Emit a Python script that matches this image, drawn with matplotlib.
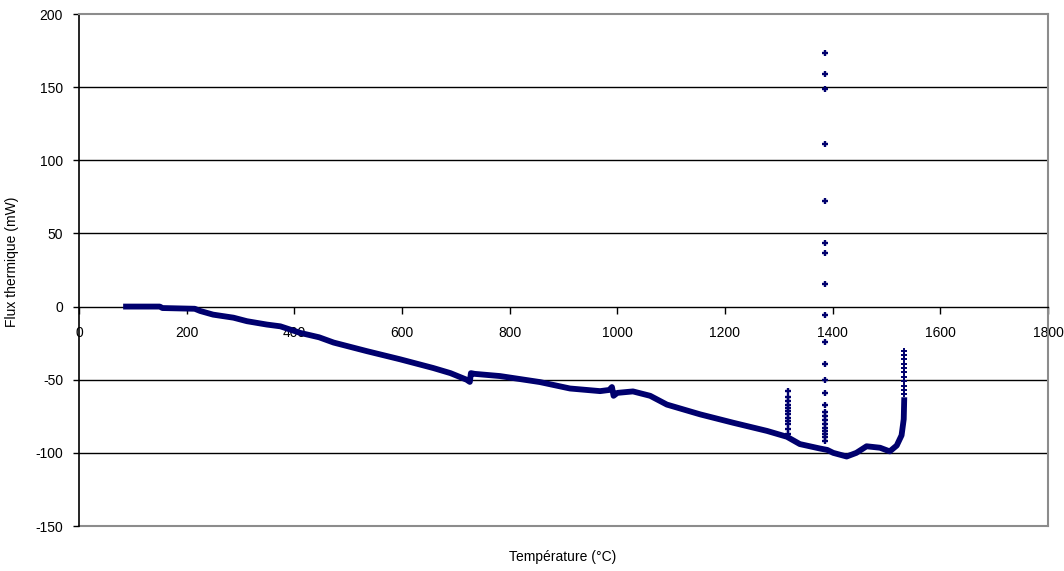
import matplotlib
matplotlib.use("Agg")
import matplotlib.pyplot as plt

plt.rcParams['font.family'] = ['Liberation Sans', 'DejaVu Sans']

# main curve (temperature in C, heat flow in mW)
temp = [82, 120, 150, 155, 215, 225, 249, 287, 312, 349, 374, 411, 446, 473,
        535, 596, 658, 690, 720, 726, 728, 735, 782, 856, 912, 968, 985, 990,
        993, 1000, 1029, 1061, 1092, 1154, 1215, 1278, 1315, 1339, 1376, 1390,
        1401, 1426, 1444, 1463, 1488, 1506, 1519, 1528, 1532, 1533]
flux = [0, 0, 0, -1, -1.5, -3, -5.5, -7.6, -10, -12.3, -13.5, -18, -21, -24.6,
        -30.5, -36, -42, -45.5, -50, -51.5, -45.5, -46, -47.5, -51.6, -56, -57.8,
        -57, -55, -61, -59, -58, -61, -67, -73.7, -79.4, -85, -89, -94, -97, -98,
        -100, -102.5, -100, -95.5, -96.5, -99, -95, -88, -77, -62]

# isolated points of the peaks
peak1_t = 1317
peak1_f = [-58, -62, -64.5, -67, -69, -71.5, -73.7, -76, -78, -80.5, -84, -87]
peak2_t = 1386
peak2_f = [173.5, 158.7, 148.5, 111, 72, 43.6, 36.8, 15.7, -6, -24.5, -39, -50.5,
           -59, -67.5, -72, -75, -77.5, -80.5, -83, -85, -87, -89, -92]
peak3_t = 1533
peak3_f = [-60, -57, -54, -51, -48, -45, -42, -39, -36, -33, -30.5]

xticks = [0, 200, 400, 600, 800, 1000, 1200, 1400, 1600, 1800]
yticks = [-150, -100, -50, 0, 50, 100, 150, 200]

navy = '#00006e'
gray = '#8c8c8c'

fig = plt.figure(figsize=(10.64, 5.71), dpi=100)
ax = fig.add_axes([79/1064, 1 - 526/571, (1048 - 79)/1064, (526 - 14)/571])

for y in [-100, -50, 50, 100, 150]:
    ax.axhline(y, color='black', lw=1.0, zorder=1)
ax.axhline(-150, color=gray, lw=1.5, zorder=1, clip_on=False)

ax.plot(temp, flux, color=navy, lw=4.2, solid_capstyle='butt', zorder=3)
ax.plot([peak1_t] * len(peak1_f), peak1_f, ls='none', marker='+', ms=5, mew=1.7, color=navy, zorder=4)
ax.plot([peak2_t] * len(peak2_f), peak2_f, ls='none', marker='+', ms=5, mew=1.7, color=navy, zorder=4)
ax.plot([peak3_t] * len(peak3_f), peak3_f, ls='none', marker='+', ms=4, mew=1.4, color=navy, zorder=4)

ax.set_xlim(0, 1800)
ax.set_ylim(-150, 200)
ax.set_xticks(xticks)
ax.set_yticks(yticks)
ax.set_xticklabels([str(v) for v in xticks])
ax.set_yticklabels([str(v) for v in yticks])

ax.spines['bottom'].set_position(('data', 0))
ax.spines['bottom'].set_color('black')
ax.spines['bottom'].set_linewidth(1.0)
ax.spines['left'].set_color('black')
ax.spines['left'].set_linewidth(1.2)
for s in ['top', 'right']:
    ax.spines[s].set_color(gray)
    ax.spines[s].set_linewidth(1.5)

ax.tick_params(axis='x', direction='out', length=5, width=1, pad=9, labelsize=10)
ax.tick_params(axis='y', direction='out', length=4.5, width=1, pad=7, labelsize=10)
for lab in ax.get_xticklabels():
    lab.set_clip_on(False)

fig.text(12/1064, 1 - 262/571, 'Flux thermique (mW)', rotation=90,
         ha='center', va='center', fontsize=10)
fig.text(563/1064, 1 - 557/571, 'Température (°C)', ha='center', va='center',
         fontsize=10)

fig.savefig('out.png', dpi=100, facecolor='white')
